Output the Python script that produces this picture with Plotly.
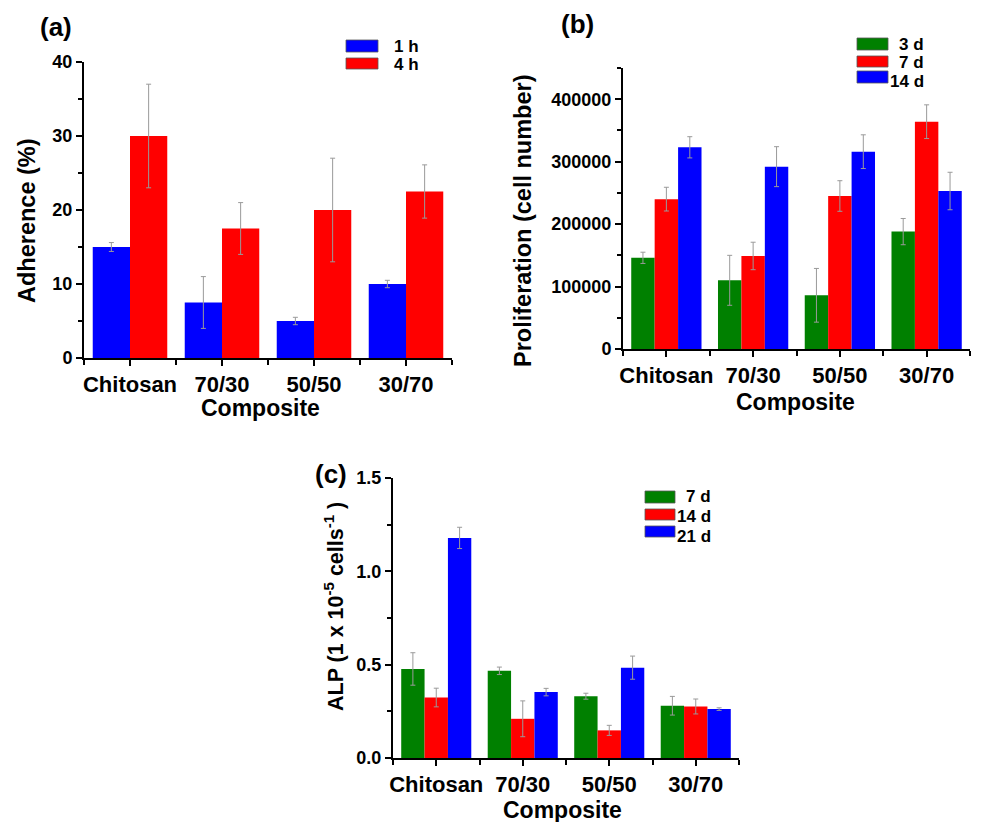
import plotly.graph_objects as go

W, H = 983, 822
FONT = "Liberation Sans, Arial, sans-serif"

categories = ["Chitosan", "70/30", "50/50", "30/70"]

# (a) adherence (%)
adh_series = ["1 h", "4 h"]
adh_colors = ["#0000FF", "#FF0000"]
adh_1h = [15, 7.5, 5, 10]
adh_1h_err = [0.6, 3.5, 0.5, 0.5]
adh_4h = [30, 17.5, 20, 22.5]
adh_4h_err = [7, 3.5, 7, 3.6]

# (b) proliferation (cell number)
prol_series = ["3 d", "7 d", "14 d"]
prol_colors = ["#008000", "#FF0000", "#0000FF"]
prol_3d = [146000, 110000, 86000, 188000]
prol_3d_err = [9000, 40000, 43000, 21000]
prol_7d = [240000, 149000, 245000, 364000]
prol_7d_err = [19000, 22000, 24500, 27000]
prol_14d = [323000, 292000, 316000, 253000]
prol_14d_err = [17000, 32000, 27000, 30000]

# (c) ALP
alp_series = ["7 d", "14 d", "21 d"]
alp_colors = ["#008000", "#FF0000", "#0000FF"]
alp_7d = [0.477, 0.467, 0.331, 0.28]
alp_7d_err = [0.087, 0.02, 0.016, 0.05]
alp_14d = [0.324, 0.21, 0.148, 0.276]
alp_14d_err = [0.05, 0.096, 0.027, 0.04]
alp_21d = [1.179, 0.353, 0.484, 0.262]
alp_21d_err = [0.057, 0.02, 0.062, 0.007]

xpos = list(range(len(categories)))


def px_x(p):
    return p / W


def px_y(p):
    return 1 - p / H


fig = go.Figure()


def add_bars(values, errs, names, colors, xa, ya):
    for v, e, n, c in zip(values, errs, names, colors):
        fig.add_trace(go.Bar(
            x=xpos, y=v, name=n, marker=dict(color=c, line=dict(width=0)),
            error_y=dict(type="data", array=e, visible=True, color="#9a9a9a",
                         thickness=1, width=2.5),
            xaxis=xa, yaxis=ya, showlegend=False))


add_bars([adh_1h, adh_4h], [adh_1h_err, adh_4h_err], adh_series, adh_colors, "x", "y")
add_bars([prol_3d, prol_7d, prol_14d], [prol_3d_err, prol_7d_err, prol_14d_err],
         prol_series, prol_colors, "x2", "y2")
add_bars([alp_7d, alp_14d, alp_21d], [alp_7d_err, alp_14d_err, alp_21d_err],
         alp_series, alp_colors, "x3", "y3")

common_axis = dict(showline=True, linecolor="black", linewidth=2, ticks="outside",
                   ticklen=6, tickwidth=2, tickcolor="black", showgrid=False,
                   zeroline=False, fixedrange=True, automargin=False)

xcommon = dict(common_axis, range=[-0.5, 3.5], tickvals=xpos, ticktext=categories,
               tickfont=dict(family=FONT, size=22, color="black", weight="bold"),
               minor=dict(ticks="outside", ticklen=5, tickwidth=1.5, tick0=0.5, dtick=1,
                          tickcolor="black"))
ytf = dict(family=FONT, size=18, color="black", weight="bold")

fig.update_layout(
    template="none",
    width=W, height=H, margin=dict(l=0, r=0, t=0, b=0, autoexpand=False),
    paper_bgcolor="white", plot_bgcolor="white",
    barmode="group", bargap=0.19, bargroupgap=0,
    showlegend=False,
    xaxis=dict(xcommon, domain=[px_x(84), px_x(452)], anchor="y"),
    yaxis=dict(common_axis, domain=[px_y(358), px_y(62)], anchor="x",
               range=[0, 40], dtick=10, tick0=0, tickfont=ytf,
               minor=dict(ticks="outside", ticklen=4, tickwidth=1.5, dtick=5, tickcolor="black")),
    xaxis2=dict(xcommon, domain=[px_x(623), px_x(970)], anchor="y2"),
    yaxis2=dict(common_axis, domain=[px_y(349), px_y(68)], anchor="x2",
                range=[0, 450000], dtick=100000, tick0=0, tickformat="d", tickfont=ytf,
                minor=dict(ticks="outside", ticklen=4, tickwidth=1.5, dtick=50000, tickcolor="black")),
    xaxis3=dict(xcommon, domain=[px_x(393), px_x(739)], anchor="y3"),
    yaxis3=dict(common_axis, domain=[px_y(758), px_y(478)], anchor="x3",
                range=[0, 1.5], dtick=0.5, tick0=0, tickformat=".1f", tickfont=ytf,
                minor=dict(ticks="outside", ticklen=4, tickwidth=1.5, dtick=0.25, tickcolor="black")),
)

annotations = []
shapes = []


def ann(text, x, y, size, angle=0, xanchor="center", yanchor="middle"):
    annotations.append(dict(text=text, x=px_x(x), y=px_y(y), xref="paper", yref="paper",
                            showarrow=False, textangle=angle, xanchor=xanchor, yanchor=yanchor,
                            font=dict(family=FONT, size=size, color="black", weight="bold")))


# panel labels
ann("(a)", 56, 27, 26)
ann("(b)", 577, 24, 26)
ann("(c)", 331, 474, 26)

# axis titles
ann("Adherence (%)", 27, 221, 23.5, angle=-90)
ann("Composite", 260, 408, 23)
ann("Proliferation (cell number)", 523, 221, 23.5, angle=-90)
ann("Composite", 795, 402, 23)
ann("ALP (1 x 10<sup>-5</sup> cells<sup>-1</sup> )", 334, 607, 21.5, angle=-90)
ann("Composite", 562, 810, 23)


def legend(names, colors, sx0, sx1, rows, text_x, text_anchor, text_ys):
    for n, c, (y0, y1), ty in zip(names, colors, rows, text_ys):
        shapes.append(dict(type="rect", xref="paper", yref="paper",
                           x0=px_x(sx0), x1=px_x(sx1), y0=px_y(y1), y1=px_y(y0),
                           fillcolor=c, line=dict(color="#555555", width=0.8)))
        ann(n, text_x, ty, 17, xanchor=text_anchor)


legend(adh_series, adh_colors, 346, 378, [(40, 52), (58, 69)], 392, "left", [46, 64])
legend(prol_series, prol_colors, 857, 888, [(38, 50), (56, 67), (71, 83)], 926, "right",
       [44, 62, 82])
legend(alp_series, alp_colors, 645, 675, [(491, 503), (509, 520), (526, 537)], 713, "right",
       [496, 516, 536])

fig.update_layout(annotations=annotations, shapes=shapes)

fig.write_html("out.html")
